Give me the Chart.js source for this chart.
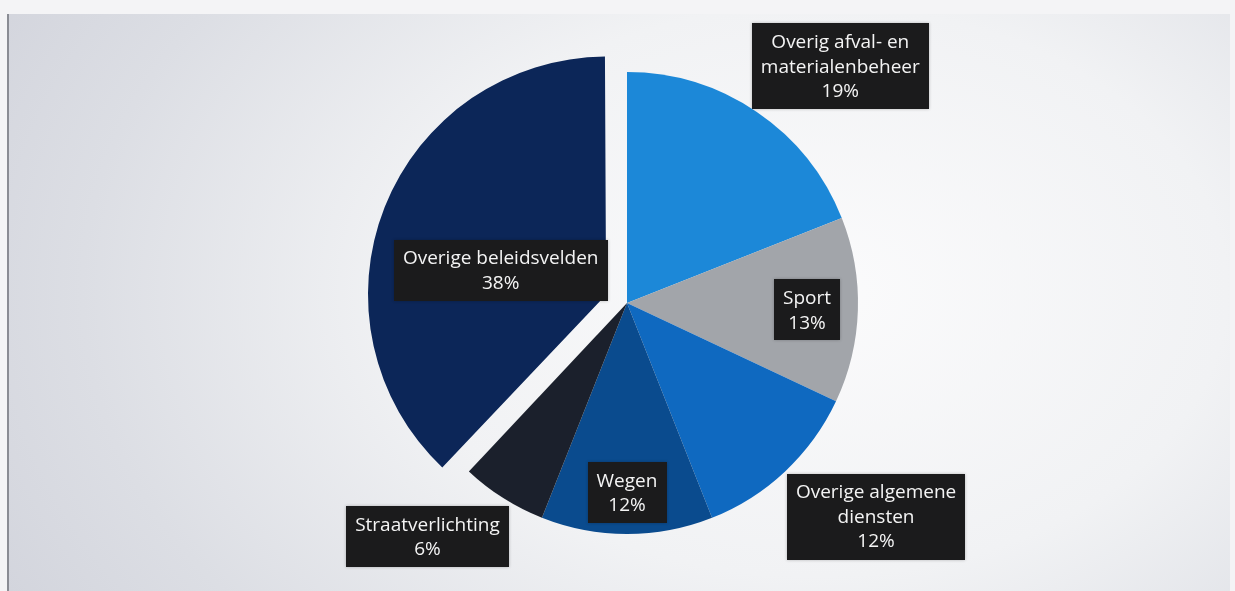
<!DOCTYPE html>
<html>
<head>
<script src="https://cdn.jsdelivr.net/npm/chart.js"></script>
<style>
  html, body { margin: 0; padding: 0; background: #ffffff; }
  #wrap {
    position: relative; width: 1235px; height: 591px; overflow: hidden;
    background: #f4f4f6;
  }
  #paper {
    position: absolute; left: 7px; top: 14px; width: 1221px; height: 577px;
    background: radial-gradient(ellipse 75% 110% at 66% 48%, #fbfbfc 0%, #f1f2f4 45%, #dcdee4 80%, #d3d5dd 100%);
    border-left: 2px solid #8a8c94;
  }
  canvas { position: absolute; left: 0; top: 0; }
</style>
</head>
<body>
<div id="wrap">
  <div id="paper"></div>
  <canvas id="pie" width="1235" height="591"></canvas>
</div>
<script>
  // categories (line breaks as in the source) and shares in percent
  const categories = [
    ['Overig afval- en', 'materialenbeheer'],
    ['Sport'],
    ['Overige algemene', 'diensten'],
    ['Wegen'],
    ['Straatverlichting'],
    ['Overige beleidsvelden']
  ];
  const shares = [19, 13, 12, 12, 6, 38];
  const sliceColors = ['#1c88d8', '#a2a5aa', '#0f69c0', '#0a4b8e', '#1b202c', '#0c2658'];
  const explode = [0, 0, 0, 0, 0, 90];

  // label placement: angle shift (deg) from slice middle, distance in radii
  const labelTurn = [7.8, 0.4, -6.2, 0, 8.1, -7];
  const labelDist = [1.38, 0.78, 1.42, 0.82, 1.33, 0.565];

  const boxLabels = {
    id: 'boxLabels',
    afterDatasetsDraw(chart) {
      const ctx = chart.ctx;
      const arcs = chart.getDatasetMeta(0).data;
      ctx.save();
      ctx.font = '19px "Open Sans", sans-serif';
      ctx.textAlign = 'center';
      ctx.textBaseline = 'middle';
      const lineH = 24.5;
      arcs.forEach((arc, i) => {
        const mid = (arc.startAngle + arc.endAngle) / 2 + labelTurn[i] * Math.PI / 180;
        const cx = arc.x + Math.cos(mid) * arc.outerRadius * labelDist[i];
        const cy = arc.y + Math.sin(mid) * arc.outerRadius * labelDist[i];
        const lines = categories[i].concat([shares[i] + '%']);
        const w = Math.max(...lines.map(t => ctx.measureText(t).width)) + 18;
        const h = lines.length * lineH + 12;
        ctx.fillStyle = '#1b1b1c';
        ctx.shadowColor = 'rgba(0,0,0,0.25)';
        ctx.shadowBlur = 3;
        ctx.fillRect(Math.round(cx - w / 2), Math.round(cy - h / 2), Math.round(w), Math.round(h));
        ctx.shadowBlur = 0;
        ctx.fillStyle = '#f4f4f4';
        lines.forEach((t, k) => {
          ctx.fillText(t, cx, cy - (lines.length - 1) * lineH / 2 + k * lineH + 1);
        });
      });
      ctx.restore();
    }
  };

  new Chart(document.getElementById('pie'), {
    type: 'pie',
    data: {
      labels: categories,
      datasets: [{
        data: shares,
        backgroundColor: sliceColors,
        borderWidth: 0,
        offset: explode,
        hoverOffset: 0
      }]
    },
    options: {
      responsive: false,
      animation: false,
      layout: { padding: { left: 300, right: 281, top: 27, bottom: 12 } },
      plugins: {
        legend: { display: false },
        tooltip: { enabled: false }
      }
    },
    plugins: [boxLabels]
  });
</script>
</body>
</html>
